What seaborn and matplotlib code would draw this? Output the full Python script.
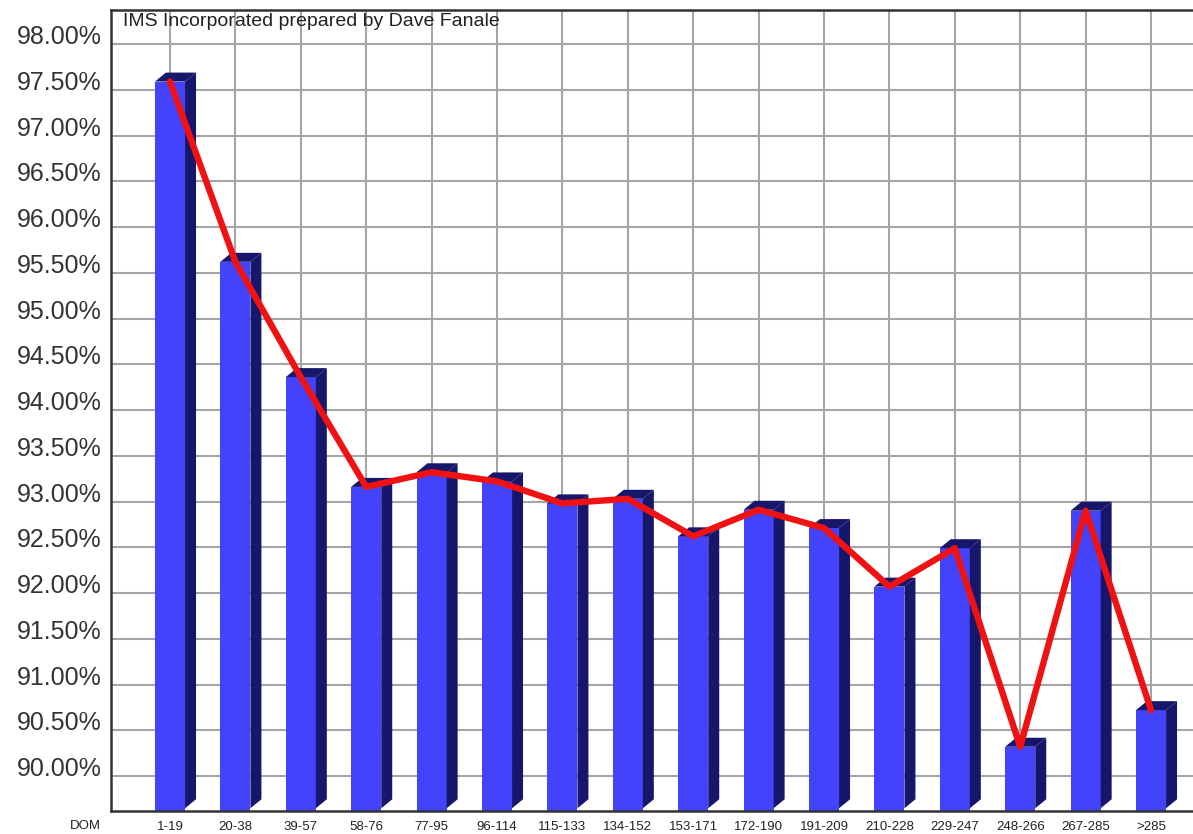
import numpy as np
import pandas as pd
import matplotlib
matplotlib.use("Agg")
import matplotlib.pyplot as plt
from matplotlib.patches import Polygon
import seaborn as sns

# ---- data ----
categories = ["1-19", "20-38", "39-57", "58-76", "77-95", "96-114", "115-133",
              "134-152", "153-171", "172-190", "191-209", "210-228", "229-247",
              "248-266", "267-285", ">285"]
values = [97.59, 95.62, 94.36, 93.16, 93.32, 93.22, 92.98, 93.03, 92.62,
          92.91, 92.71, 92.07, 92.49, 90.32, 92.90, 90.72]
y_ticks = [90.0, 90.5, 91.0, 91.5, 92.0, 92.5, 93.0, 93.5, 94.0, 94.5,
           95.0, 95.5, 96.0, 96.5, 97.0, 97.5, 98.0]
y_tick_labels = [f"{t:.2f}%" for t in y_ticks]
note_text = "IMS Incorporated prepared by Dave Fanale"
x_axis_name = "DOM"

# ---- style ----
FRONT = "#4343fb"
DARK = "#16166b"
RED = "#f01212"
W_PX, H_PX = 1193, 834
BAR_W = 0.46
DX = 0.168     # depth offset in category units
DY = 0.098     # depth offset in value units
Y_MIN, Y_MAX = 89.6175, 98.372
X_MIN, X_MAX = -0.902, 15.642

sns.set_theme(style="white")
plt.rcParams["font.family"] = ["Liberation Sans", "DejaVu Sans"]

fig = plt.figure(figsize=(W_PX / 100, H_PX / 100), dpi=100)
ax = fig.add_axes([111 / W_PX, 23 / H_PX, 1 - 111 / W_PX, (811 - 10) / H_PX])

df = pd.DataFrame({"range": categories, "pct": values})
sns.barplot(data=df, x="range", y="pct", color=FRONT, saturation=1,
            width=BAR_W, ax=ax, zorder=2, edgecolor="none", linewidth=0)

base = Y_MIN + 0.03
for i, v in enumerate(values):
    xl, xr = i - BAR_W / 2, i + BAR_W / 2
    top = Polygon([(xl, v), (xl + DX, v + DY), (xr + DX, v + DY), (xr, v)],
                  closed=True, facecolor=DARK, edgecolor="none", zorder=2)
    side = Polygon([(xr, v), (xr + DX, v + DY), (xr + DX, base + DY), (xr, base)],
                   closed=True, facecolor=DARK, edgecolor="none", zorder=2)
    ax.add_patch(top)
    ax.add_patch(side)

sns.lineplot(x=np.arange(len(values)), y=values, color=RED, linewidth=4.6,
             ax=ax, zorder=5, sort=False, solid_joinstyle="round",
             solid_capstyle="round")

ax.set_xlim(X_MIN, X_MAX)
ax.set_ylim(Y_MIN, Y_MAX)
ax.set_yticks(y_ticks)
ax.set_yticklabels(y_tick_labels, fontsize=18, color="#333333", va="baseline")
ax.set_xticks(np.arange(len(categories)))
ax.set_xticklabels(categories, fontsize=9.5, color="#222222")
ax.tick_params(axis="y", length=0, pad=6.5)
ax.tick_params(axis="x", length=0, pad=7)
ax.set_xlabel("")
ax.set_ylabel("")

ax.grid(True, color="#a5a5a5", linewidth=1.5)
ax.set_axisbelow(True)
for s in ["left", "top", "bottom"]:
    ax.spines[s].set_visible(True)
    ax.spines[s].set_color("#333333")
    ax.spines[s].set_linewidth(1.8)
ax.spines["right"].set_visible(False)

fig.text(123 / W_PX, 1 - 22 / H_PX, note_text, fontsize=14, ha="left",
         va="center", color="#222222")
fig.text(85 / W_PX, 1 - 826 / H_PX, x_axis_name, fontsize=9.5, ha="center",
         va="center", color="#222222")

fig.savefig("out.png", dpi=100, facecolor="white")
